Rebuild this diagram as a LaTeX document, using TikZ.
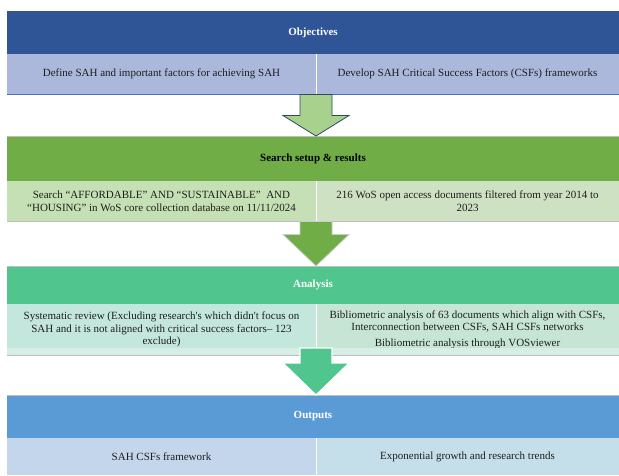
\documentclass[tikz,border=0pt]{standalone}
\usepackage{fontspec}
\setmainfont{Liberation Serif}
\usetikzlibrary{calc}
\definecolor{objHead}{RGB}{47,85,151}
\definecolor{objSub}{RGB}{171,184,220}
\definecolor{objLine}{RGB}{68,114,196}
\definecolor{arrOneFill}{RGB}{169,209,142}
\definecolor{arrOneDraw}{RGB}{50,70,95}
\definecolor{srchHead}{RGB}{112,173,71}
\definecolor{srchSubL}{RGB}{197,224,180}
\definecolor{srchSubR}{RGB}{207,225,195}
\definecolor{anHead}{RGB}{80,198,142}
\definecolor{anSubL}{RGB}{196,231,221}
\definecolor{anSubR}{RGB}{198,229,212}
\definecolor{anBand}{RGB}{214,238,230}
\definecolor{outHead}{RGB}{91,155,213}
\definecolor{outSubL}{RGB}{196,214,236}
\definecolor{outSubR}{RGB}{197,223,234}
\definecolor{txt}{RGB}{30,30,30}
\definecolor{sepLine}{RGB}{190,190,190}
\newcommand\blockarrow[4]{%
  \draw[#1] ($(#2)+(-16,0)$) -- ($(#2)+(-16,#4)$) -- ($(#2)+(-33,#4)$) -- (#3)
    -- ($(#2)+(33,#4)$) -- ($(#2)+(16,#4)$) -- ($(#2)+(16,0)$) -- cycle;}
\begin{document}
\begin{tikzpicture}[x=1pt,y=-1pt,
  box/.style={anchor=north west, inner sep=0pt, outer sep=0pt, align=center,
    font=\fontsize{11}{12.6}\selectfont, text=txt},
  headbox/.style={box, minimum width=612pt, font=\fontsize{11}{12.6}\selectfont\bfseries},
  leftbox/.style={box, minimum width=309pt},
  rightbox/.style={box, minimum width=303pt},
  divider/.style={white, line width=0.6pt},
  topline/.style={sepLine, line width=0.8pt}]
\useasboundingbox (0,0) rectangle (619,475);

% ---- Objectives
\node[headbox, fill=objHead, text=white, minimum height=43pt] (objH) at (7,11) {Objectives};
\node[leftbox, fill=objSub, minimum height=40pt] (objL) at (7,54) {Define SAH and important factors for achieving SAH};
\node[rightbox, fill=objSub, minimum height=40pt] (objR) at (316,54) {Develop SAH Critical Success Factors (CSFs) frameworks};
\draw[divider] (objL.north east) -- (objL.south east);
\draw[objLine, line width=0.9pt] (objL.south west) -- (objR.south east);

% ---- Search
\node[headbox, fill=srchHead, text=black, minimum height=45pt] (srchH) at (7,136) {Search setup \& results};
\node[leftbox, fill=srchSubL, minimum height=40pt] (srchL) at (7,181) {Search “AFFORDABLE” AND “SUSTAINABLE”\ \ AND\\“HOUSING” in WoS core collection database on 11/11/2024};
\node[rightbox, fill=srchSubR, minimum height=40pt] (srchR) at (316,181) {216 WoS open access documents filtered from year 2014 to\\2023};
\draw[divider] (srchL.north east) -- (srchL.south east);
\draw[topline] (srchH.north west) -- (srchH.north east);
\draw[topline] (srchL.south west) -- (srchR.south east);

% ---- Analysis
\node[headbox, fill=anHead, text=white, minimum height=38pt] (anH) at (7,266) {Analysis};
\node[leftbox, fill=anSubL, minimum height=51pt] (anL) at (7,304) {Systematic review (Excluding research\textquotesingle s which didn\textquotesingle t focus on\\SAH and it is not aligned with critical success factors– 123\\exclude)};
\node[rightbox, fill=anSubR, minimum height=51pt] (anR) at (316,304) {Bibliometric analysis of 63 documents which align with CSFs,\\Interconnection between CSFs, SAH CSFs networks\\[3pt]Bibliometric analysis through VOSviewer};
\fill[anBand] ($(anL.south west)+(0,-7)$) rectangle (anR.south east);
\draw[divider] (anL.north east) -- ($(anL.south east)+(0,-7)$);
\draw[topline] (anH.north west) -- (anH.north east);
\draw[topline] (anL.south west) -- (anR.south east);

% ---- Outputs
\node[headbox, fill=outHead, text=white, minimum height=43pt] (outH) at (7,395) {Outputs};
\node[leftbox, fill=outSubL, minimum height=37pt] (outL) at (7,438) {SAH CSFs framework};
\node[rightbox, fill=outSubR, minimum height=37pt] (outR) at (316,438) {Exponential growth and research trends};
\draw[divider] (outL.north east) -- (outL.south east);
\draw[topline] (outH.north west) -- (outH.north east);

% ---- Block arrows
\coordinate (a1top) at ($(objL.south east)+(0,0.5)$);
\coordinate (a2top) at ($(srchL.south east)+(0,0.5)$);
\coordinate (a3top) at ($(anL.south east)+(0,-7)$);
\blockarrow{fill=arrOneFill, draw=arrOneDraw, line width=0.8pt, line join=miter}{a1top}{objL.south east |- srchH.north}{21}
\blockarrow{fill=srchHead, draw=white!80!black, line width=0.8pt}{a2top}{srchL.south east |- anH.north}{13}
\blockarrow{fill=anHead, draw=white, line width=1.2pt}{a3top}{anL.south east |- outH.north}{15}
\end{tikzpicture}
\end{document}
